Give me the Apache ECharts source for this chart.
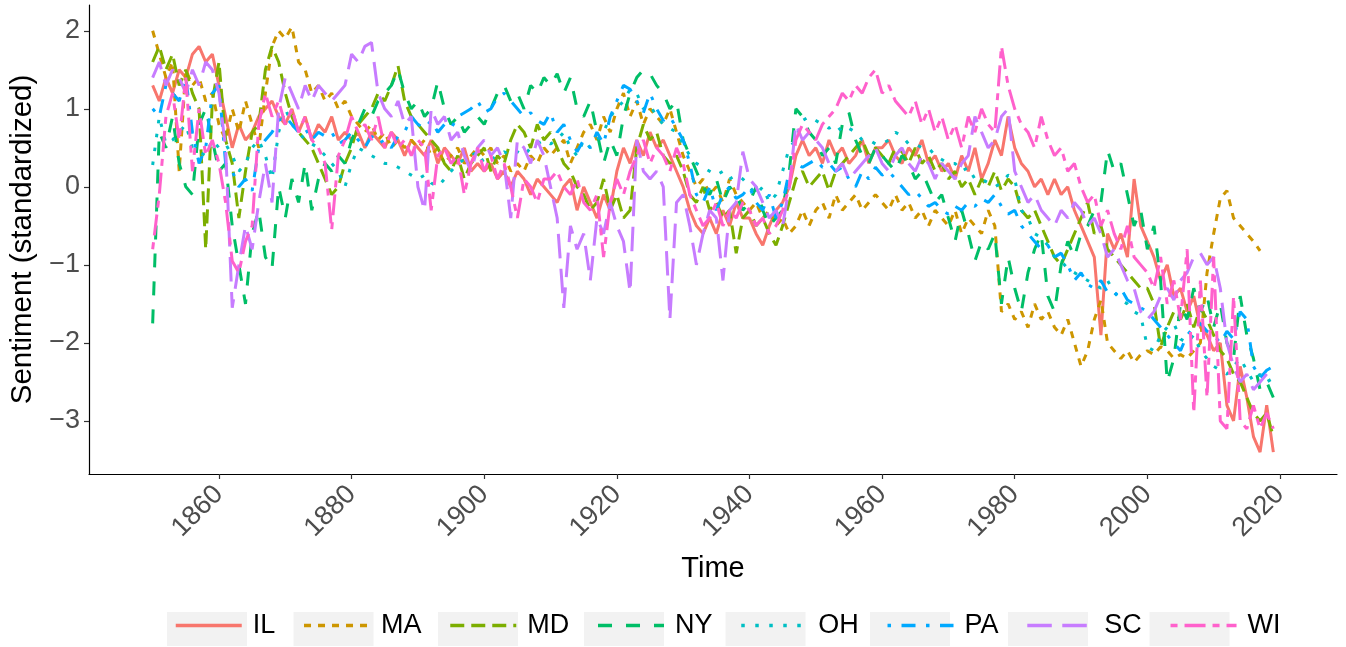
<!DOCTYPE html>
<html>
<head>
<meta charset="utf-8">
<script src="https://cdn.jsdelivr.net/npm/echarts@6/dist/echarts.min.js"></script>
<style>
  html, body { margin: 0; padding: 0; background: #fff; }
  #chart { width: 1346px; height: 647px; }
</style>
</head>
<body>
<div id="chart"></div>
<script>
// yearly values, 1850 .. 2019
const firstYear = 1850
const states = ['IL', 'MA', 'MD', 'NY', 'OH', 'PA', 'SC', 'WI']
const xTicks = [1860, 1880, 1900, 1920, 1940, 1960, 1980, 2000, 2020]
const yTicks = [-3, -2, -1, 0, 1, 2]

const il = [
  1.3, 1.1, 1.4, 1.2, 1.5, 1.4, 1.7, 1.8, 1.6, 1.7,
  1.3, 0.9, 0.5, 0.8, 0.6, 0.7, 0.9, 1.0, 1.1, 0.9,
  0.8, 1.0, 0.7, 0.9, 0.6, 0.8, 0.7, 0.9, 0.6, 0.7,
  0.6, 0.7, 0.5, 0.7, 0.6, 0.5, 0.7, 0.6, 0.4, 0.6,
  0.5, 0.4, 0.6, 0.3, 0.5, 0.4, 0.3, 0.5, 0.2, 0.3,
  0.2, 0.3, 0.1, 0.2, 0.0, 0.2, 0.1, -0.1, 0.1, 0.0,
  -0.1, -0.2, 0.0, 0.1, -0.3, 0.0, -0.2, -0.4, -0.1, -0.3,
  0.2, 0.5, 0.3, 0.6, 0.4, 0.7, 0.5, 0.6, 0.4, 0.2,
  0.0, -0.3, -0.5, -0.6, -0.4, -0.6, -0.3, -0.5, -0.2, -0.4,
  -0.4, -0.6, -0.75, -0.5, -0.3, -0.2, 0.0, 0.4, 0.6, 0.4,
  0.5, 0.3, 0.6, 0.4, 0.5, 0.3, 0.4, 0.6, 0.3, 0.5,
  0.5, 0.6, 0.4, 0.3, 0.5, 0.4, 0.6, 0.3, 0.4, 0.2,
  0.3, 0.1, 0.4, 0.2, 0.5, 0.1, 0.3, 0.6, 0.4, 0.9,
  0.5, 0.3, 0.2, 0.0, 0.1, -0.1, 0.1, -0.1, 0.0, -0.3,
  -0.5, -0.7, -0.9, -1.9, -0.6, -0.8, -0.6, -0.9, 0.1, -0.5,
  -0.7, -0.9, -1.2, -1.0, -1.4, -1.3, -1.6, -1.4, -1.8, -1.9,
  -2.1, -2.0, -2.8, -3.0, -2.3, -2.7, -3.2, -3.4, -2.8, -3.4
]
const ma = [
  2.0, 1.7, 1.4, 1.6, 0.2, 1.5, 1.3, 1.4, 1.1, 1.2,
  0.8, 0.6, 1.0, 0.7, 1.1, 0.8, 0.5, 1.2, 1.8, 2.0,
  1.9, 2.05, 1.6, 1.5, 1.2, 1.3, 1.1, 1.2, 1.0, 1.1,
  0.9, 0.8, 0.7, 0.8, 0.6, 0.7, 0.5, 0.6, 0.5, 0.6,
  0.5, 0.6, 0.4, 0.5, 0.3, 0.4, 0.5, 0.3, 0.4, 0.5,
  0.4, 0.5, 0.3, 0.4, 0.2, 0.3, 0.2, 0.4, 0.3, 0.5,
  0.4, 0.5, 0.6, 0.3, 0.5, 0.7, 0.8, 0.6, 0.9, 0.7,
  1.0, 1.2, 0.9, 1.1, 0.8, 1.0, 0.9, 0.8, 1.0, 0.7,
  0.4, 0.2, 0.0, 0.1, -0.1, 0.0, -0.2, 0.1, -0.1, -0.2,
  -0.3, -0.2, -0.4, -0.3, -0.5, -0.4, -0.6, -0.5, -0.3, -0.5,
  -0.3, -0.2, -0.4, -0.1, -0.3, -0.2, -0.1, -0.3, -0.2, -0.1,
  -0.2, -0.3, -0.1, -0.3, -0.2, -0.4, -0.3, -0.5, -0.3, -0.4,
  -0.5, -0.3, -0.6, -0.4, -0.5, -0.6, -0.3, -0.5, -1.6, -1.5,
  -1.7, -1.6, -1.8, -1.5, -1.7, -1.6, -1.8, -1.9, -1.7, -2.0,
  -2.3, -2.1, -1.7, -1.45, -2.0, -2.1, -2.2, -2.1, -2.25, -2.15,
  -2.1, -2.15, -2.05, -2.1, -2.2, -2.15, -2.2, -2.1, -2.0, -1.1,
  -0.6, -0.15, -0.05, -0.4, -0.5, -0.6, -0.7, -0.82, null, null
]
const md = [
  1.6, 1.8, 1.5, 1.7, 1.3, 1.5, 1.2, 1.0, -0.8, 1.1,
  1.6, 0.6, 0.3, -0.4, 0.2, 0.7, 0.8, 1.5, 1.8, 1.6,
  1.2, 0.9, 0.7, 0.6, 0.5, 0.3, 0.1, -0.1, 0.0, 0.3,
  0.5, 0.8, 0.9, 1.0, 1.2, 1.1, 1.3, 1.55, 1.1, 0.9,
  0.8, 0.7, 0.6, 0.5, 0.3, 0.2, 0.4, 0.1, 0.3, 0.4,
  0.5, 0.2, 0.4, 0.3, 0.6, 0.8, 0.7, 0.5, 0.8, 0.6,
  0.7, 0.5, 0.3, 0.2, 0.0, -0.1, -0.3, -0.2, 0.1, -0.3,
  -0.1, -0.4, -0.3, 0.5, 0.8, 0.6, 0.7, 0.4, 0.3, 0.4,
  0.2, -0.1, -0.2, 0.0, -0.3, -0.2, -0.4, -0.3, -0.85, -0.4,
  -0.3, -0.5, -0.4, -0.6, -0.75, -0.5, -0.2, 0.1, 0.2, 0.0,
  0.1, 0.2, -0.05, 0.2, 0.3, 0.4, 0.5, 0.6, 0.4, 0.5,
  0.4, 0.3, 0.5, 0.45, 0.3, 0.5, 0.3, 0.4, 0.2, 0.3,
  0.1, 0.2, 0.0, 0.1, -0.1, 0.1, 0.0, 0.2, -0.05, 0.1,
  0.0, -0.3, -0.4, -0.3, -0.5, -0.7, -0.9, -1.0, -0.8, -0.6,
  -0.4, -0.2, -0.6, -0.5, -0.8, -0.9, -1.0, -1.1, -1.2, -1.3,
  -1.3, -1.5, -2.05, -1.8, -1.6, -1.7, -1.5, -1.8, -1.55, -1.7,
  -1.9, -2.1, -2.2, -2.4, -2.5, -2.7, -2.9, -3.0, -2.9, -3.2
]
const ny = [
  -1.75, 0.7, 0.5, 0.9, 0.3, 0.0, -0.1, 0.8, 1.0, 0.6,
  0.2, 0.3, -0.5, -1.0, -1.5, -0.6, -0.3, -0.9, -1.05, 0.0,
  -0.4, 0.1, -0.2, 0.3, -0.3, 0.1, 0.3, 0.2, 0.4, 0.3,
  0.6, 0.8, 1.0, 0.9, 1.1, 1.2, 1.3, 1.5, 1.2, 1.0,
  1.1, 0.9, 1.0, 1.35, 1.0, 0.8, 0.9, 0.7, 0.8, 0.9,
  0.8, 1.0, 1.2, 1.3, 1.1, 1.2, 1.0, 1.3, 1.2, 1.4,
  1.3, 1.45, 1.2, 1.4, 1.0, 0.9, 1.1, 0.7, 0.3, 0.6,
  0.4, 0.9, 1.2, 1.4, 1.5, 1.45, 1.3, 1.2, 1.0, 1.1,
  0.6, 0.4, 0.2, 0.0, -0.1, 0.1, -0.2, 0.0, -0.1, -0.3,
  -0.2, 0.0, -0.3, -0.5, -0.4, -0.3, 0.2, 1.0, 0.9, 0.7,
  0.6, 0.4, 0.5, 0.3, 0.8, 0.95, 0.6, 0.4, 0.3, 0.5,
  0.4, 0.3, 0.2, 0.4, 0.3, 0.1, 0.2, 0.0, -0.2, -0.1,
  -0.4, -0.7, -0.3, -0.6, -0.95, -0.7, -0.8, -0.6, -1.5, -0.9,
  -1.3, -1.6, -1.1, -0.8, -0.6, -1.4, -1.6, -1.0, -0.7, -0.9,
  -0.6, -0.5, -0.3, -0.2, 0.47, 0.2, 0.3, -0.1, -0.5, -0.3,
  -0.8, -0.5, -1.2, -2.5, -2.2, -1.5, -1.7, -1.3, -1.6, -1.4,
  -1.8, -1.5, -2.0, -2.2, -1.4, -1.9, -2.2, -2.6, -2.5, -2.7
]
const oh = [
  0.28, 0.9, 0.55, 0.6, 0.7, 0.8, 0.5, 0.45, 0.4, 0.6,
  0.5, 0.55, 0.4, 0.2, 0.3, 0.5, 0.6, 0.4, 0.1, 0.7,
  1.0, 0.8, 0.7, 0.6, 0.55, 0.5, 0.4, 0.3, 0.2, 0.0,
  0.3, 0.5, 0.45, 0.4, 0.35, 0.3, 0.3, 0.25, 0.2, 0.15,
  0.1, 0.15, 0.05, 0.0, 0.1, 0.2, 0.3, 0.35, 0.4, 0.45,
  0.3, 0.35, 0.4, 0.45, 0.4, 0.45, 0.4, 0.5, 0.55, 0.6,
  0.55, 0.6, 0.7, 0.5, 0.4, 0.6, 0.5, 0.6, 0.7, 0.9,
  1.0, 1.1, 1.25, 1.2, 1.0, 1.05, 0.9, 0.8, 0.75, 0.7,
  0.55, 0.4, 0.3, 0.25, 0.2, 0.15, 0.2, 0.1, 0.15, 0.1,
  0.0, -0.1, 0.0, -0.2, -0.1, 0.2, 0.5, 0.6, 0.85, 0.9,
  0.85, 0.8, 0.75, 0.8, 0.7, 0.75, 0.7, 0.6, 0.6, 0.55,
  0.55, 0.6, 0.7, 0.65, 0.55, 0.55, 0.5, 0.5, 0.4, 0.35,
  0.3, 0.3, 0.2, 0.25, 0.1, 0.1, 0.05, 0.0, 0.05, 0.15,
  0.1, -0.3, -0.4, -0.6, -0.65, -0.75, -0.9, -0.95, -1.05, -1.1,
  -1.15, -1.2, -1.25, -1.3, -1.2, -1.35, -1.45, -1.5, -1.6, -1.65,
  -2.05, -2.1, -1.9, -1.8, -1.75, -1.95, -2.0, -1.9, -2.1, -2.2,
  -2.3, -2.35, -2.4, -2.3, -2.2, -2.35, -2.5, -2.4, -2.5, -2.45
]
const pa = [
  1.0, 0.9, 1.3, 1.2, 1.1, 1.4, 0.7, 0.3, 0.5, 1.2,
  1.3, 0.3, 0.2, 0.0, 0.1, -0.05, 0.5, 0.6, 0.7, 0.85,
  0.9, 0.8, 0.7, 0.75, 0.6, 0.7, 0.65, 0.7, 0.55, 0.6,
  0.7, 0.6, 0.5, 0.65, 0.55, 0.6, 0.5, 0.65, 0.7, 0.9,
  0.8, 0.75, 0.85, 0.7, 0.8, 0.75, 0.9, 0.95, 1.0, 1.1,
  0.95, 1.0, 1.15, 1.2, 1.1, 1.0, 0.9, 0.95, 0.85, 0.8,
  0.95, 0.7, 0.8, 0.6, 0.45, 0.6, 0.5, 0.7, 0.55, 0.9,
  1.1, 1.3, 1.25, 1.1, 0.95, 1.2, 1.0, 0.85, 0.9, 0.75,
  0.6, 0.3, -0.1, -0.2, 0.0, -0.3, -0.1, 0.0, -0.15, -0.1,
  0.0, -0.2, -0.3, -0.1, -0.4, -0.2, 0.2, 0.3, 0.25, 0.3,
  0.35, 0.25, 0.3, 0.2, 0.25, 0.1, 0.0, 0.2, 0.1, 0.25,
  0.15, 0.2, 0.1, 0.0, -0.1, -0.05, -0.15, -0.25, -0.2, -0.3,
  -0.35, -0.25, -0.3, -0.2, -0.25, -0.15, -0.2, -0.1, -0.25, -0.35,
  -0.3, -0.5, -0.6, -0.7, -0.8, -0.75, -0.9, -0.85, -1.0, -1.2,
  -1.1, -1.25, -1.3, -1.2, -1.35, -1.4, -1.3, -1.45, -1.5, -1.55,
  -1.6, -1.7, -1.8, -1.9, -2.0, -2.1, -1.9, -1.8, -1.75, -1.85,
  -1.9, -2.0, -1.85, -1.95, -1.6, -1.7, -2.3, -2.45, -2.35, -2.3
]
const sc = [
  1.4, 1.6, 1.3, 1.5, 1.4, 1.2, 1.5, 1.3, 1.6, 1.5,
  1.2, 0.5, -1.55, -1.0, -0.5, -0.8, -0.2, 0.3, -0.2, 1.0,
  1.4, 1.2, 1.0, 1.3, 1.1, 1.3, 1.2, 1.1, 1.2, 1.3,
  1.7, 1.6, 1.8, 1.85, 1.2, 1.0, 0.9, 1.1, 0.8, 0.9,
  0.0, -0.3, 1.0, 0.8, 0.9, 0.6, 0.7, 0.4, 0.2, 0.5,
  0.6, 0.4, 0.5, 0.3, -0.4, 0.6, 0.5, 0.3, 0.6, 0.4,
  0.0, -0.4, -1.55, -0.5, -0.8, -0.6, -1.2, -0.4, -0.6, -0.2,
  -0.5, -0.7, -1.35, 0.6, 0.2, 0.1, 0.2, 0.0, -1.7, -0.2,
  -0.1, -0.5, -1.0, -0.6, -0.3, -0.4, -1.2, -0.3, -0.2, 0.45,
  0.1, 0.0, -0.2, -0.4, -0.3, -0.5, 0.0, 0.8, 0.6, 0.7,
  0.6, 0.5, 0.3, 0.2, 0.3, 0.1, 0.2, 0.3, 0.4, 0.5,
  0.3, 0.2, 0.4, 0.5, 0.3, 0.2, 0.4, 0.3, 0.1, 0.3,
  0.2, 0.1, 0.3, 0.4, 0.9, 0.7, 0.5, 0.6, 0.9, 1.0,
  0.2, 0.0, -0.2, -0.1, -0.3, -0.4, -0.5, -0.3, -0.4, -0.2,
  -0.3, -0.5, -0.4, -0.6, -0.9, -0.8, -1.0, -1.2, -1.3, -1.6,
  -1.7, -1.6, -1.4, -1.3, -1.45, -1.2, -1.1, -0.9, -0.85, -1.0,
  -0.9, -1.3, -2.0, -2.3, -2.5, -2.4, -2.6, -2.5, -2.4, -2.3
]
const wi = [
  -0.8, -0.1, 0.9, 1.2, 0.6, 1.4, 0.2, 1.0, 0.4, 0.6,
  0.3, -0.2, -0.95, -1.1, -0.7, -0.5, 0.8, 1.2, 0.9, 1.1,
  0.8, 1.0, 0.7, 0.9, 0.6, 0.5, 0.3, -0.55, 0.4, 0.6,
  0.9, 0.7, 0.8, 0.6, 0.9, 0.5, 0.7, 0.5, 0.6, 0.4,
  0.6, 0.5, -0.3, 0.4, 0.5, 0.3, 0.4, -0.1, 0.3, 0.5,
  0.2, 0.4, 0.1, 0.3, 0.0, -0.4, 0.1, 0.0, -0.2, 0.1,
  0.1, 0.2, 0.0, -0.1, 0.1, -0.2, -0.3, -0.1, -0.9, -0.2,
  0.1, -0.1, 0.2, 0.4, 0.6, 0.3, 0.5, 0.4, 0.2, 0.5,
  0.3, -0.1, -0.3, -0.5, -0.4, -0.2, -0.5, -0.3, -0.4, -0.2,
  -0.3, -0.5, -0.4, -0.6, -0.5, -0.3, 0.0, 0.6, 0.8, 0.7,
  0.6, 0.8, 0.9, 1.0, 1.2, 1.1, 1.3, 1.2, 1.4, 1.5,
  1.2, 1.3, 1.1, 1.0, 0.9, 1.1, 0.8, 1.0, 0.7, 0.9,
  0.6, 0.8, 0.5, 0.9, 0.7, 1.0, 0.8, 0.7, 1.8, 1.3,
  1.0, 0.8, 0.7, 0.5, 0.9, 0.6, 0.4, 0.5, 0.2, 0.3,
  0.0, -0.2, -0.1, -0.5, -0.3, -0.6, -0.8, -0.5, -0.9, -1.0,
  -1.1, -1.3, -0.9, -1.5, -1.2, -1.7, -0.8, -2.9, -1.2, -2.7,
  -0.9, -3.0, -3.1, -1.4, -3.0, -3.1, -2.8, -3.1, -2.9, -3.1
]

const values = [il, ma, md, ny, oh, pa, sc, wi]
const colors = ['#F8766D', '#CD9600', '#7CAE00', '#00BE67', '#00BFC4', '#00A9FF', '#C77CFF', '#FF61CC']
// ggplot linetypes: solid, 22, 42, 44, 13, 1343, 73, 2262
const dashes = ['solid', [7, 7], [14, 7], [14, 14], [3.5, 10.5], [3.5, 10.5, 14, 10.5], [24.5, 10.5], [7, 7, 21, 7]]

const font = 'Liberation Sans, Arial, Helvetica, sans-serif'

function toPairs (vals) {
  let out = []
  for (let i = 0; i < vals.length; i++) {
    out.push([firstYear + i, vals[i]])
  }
  return out
}

function minus (v) {
  return String(v).replace('-', '\u2212')
}

let series = []
for (let k = 0; k < states.length; k++) {
  series.push({
    name: states[k],
    type: 'line',
    data: toPairs(values[k]),
    symbol: 'none',
    connectNulls: false,
    lineStyle: { color: colors[k], width: 3, type: dashes[k] },
    itemStyle: { color: colors[k] },
    emphasis: { disabled: true }
  })
}

let chart = echarts.init(document.getElementById('chart'))
let option = {
  animation: false,
  backgroundColor: '#ffffff',
  grid: { left: 89, right: 9, top: 5, bottom: 173, containLabel: false },
  legend: [
    {
      // grey key boxes
      data: states,
      left: 160,
      top: 612,
      icon: 'rect',
      itemWidth: 80,
      itemHeight: 34,
      itemGap: 19,
      padding: [0, 7, 0, 7],
      selectedMode: false,
      itemStyle: { color: '#F2F2F2', borderWidth: 0 },
      textStyle: { fontSize: 27, fontFamily: font, color: 'rgba(0,0,0,0)' },
      z: 3
    },
    {
      // line keys and labels
      data: states,
      left: 160,
      top: 612,
      itemWidth: 66,
      itemHeight: 34,
      itemGap: 27,
      padding: [0, 0, 0, 14],
      selectedMode: false,
      itemStyle: { opacity: 0 },
      lineStyle: { width: 3.5 },
      textStyle: { fontSize: 27, fontFamily: font, color: '#000000', padding: [0, 0, 0, 6] },
      z: 4
    }
  ],
  xAxis: {
    type: 'value',
    min: 1840.4,
    max: 2028.6,
    name: 'Time',
    nameLocation: 'middle',
    nameGap: 80,
    nameTextStyle: { fontSize: 29, fontFamily: font, color: '#000000' },
    axisLine: { show: true, onZero: false, lineStyle: { color: '#000000', width: 1.2 } },
    axisTick: { show: true, length: 5, customValues: xTicks, lineStyle: { color: '#333333', width: 1.2 } },
    axisLabel: {
      customValues: xTicks,
      rotate: 45,
      margin: 16,
      fontSize: 27,
      fontFamily: font,
      color: '#4D4D4D',
      formatter: function (v) { return String(v) }
    },
    splitLine: { show: false }
  },
  yAxis: {
    type: 'value',
    min: -3.68,
    max: 2.33,
    name: 'Sentiment (standardized)',
    nameLocation: 'middle',
    nameGap: 36,
    nameTextStyle: { fontSize: 29.5, fontFamily: font, color: '#000000' },
    axisLine: { show: true, onZero: false, lineStyle: { color: '#000000', width: 1.2 } },
    axisTick: { show: true, length: 5, customValues: yTicks, lineStyle: { color: '#333333', width: 1.2 } },
    axisLabel: { customValues: yTicks, margin: 9, fontSize: 27, fontFamily: font, color: '#4D4D4D', formatter: minus },
    splitLine: { show: false }
  },
  series: series
}
chart.setOption(option)
</script>
</body>
</html>
